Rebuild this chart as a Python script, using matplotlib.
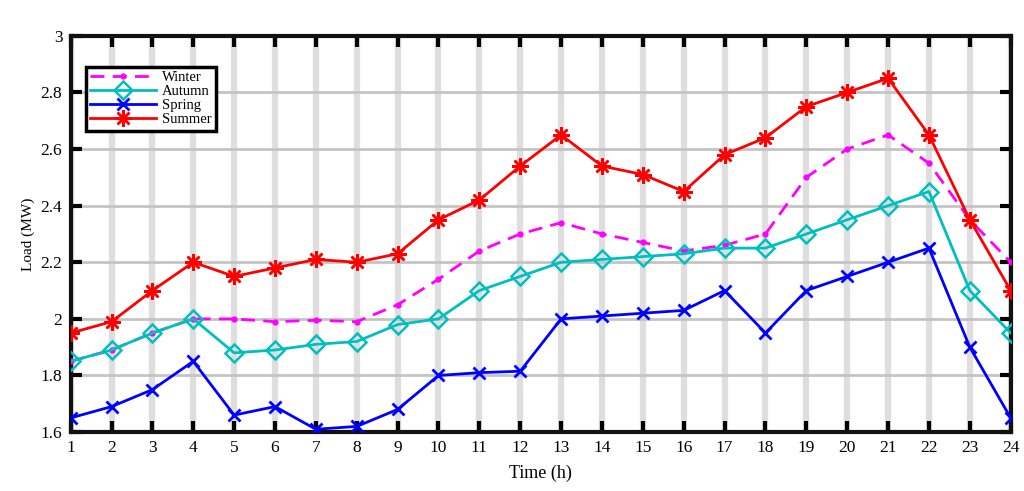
import numpy as np
import matplotlib.pyplot as plt

plt.rcParams['font.family'] = ['Liberation Serif', 'DejaVu Serif']

# ==============================================================================
# Data
# ==============================================================================
hours = list(range(1, 25))

winter = [1.85, 1.89, 1.95, 2.00, 2.00, 1.99, 1.995, 1.99, 2.05, 2.14, 2.24, 2.30,
          2.34, 2.30, 2.27, 2.24, 2.26, 2.30, 2.50, 2.60, 2.65, 2.55, 2.35, 2.20]
autumn = [1.85, 1.89, 1.95, 2.00, 1.88, 1.89, 1.91, 1.92, 1.98, 2.00, 2.10, 2.15,
          2.20, 2.21, 2.22, 2.23, 2.25, 2.25, 2.30, 2.35, 2.40, 2.45, 2.10, 1.95]
spring = [1.65, 1.69, 1.75, 1.85, 1.66, 1.69, 1.61, 1.62, 1.68, 1.80, 1.81, 1.815,
          2.00, 2.01, 2.02, 2.03, 2.10, 1.95, 2.10, 2.15, 2.20, 2.25, 1.90, 1.65]
summer = [1.95, 1.99, 2.10, 2.20, 2.15, 2.18, 2.21, 2.20, 2.23, 2.35, 2.42, 2.54,
          2.65, 2.54, 2.51, 2.45, 2.58, 2.64, 2.75, 2.80, 2.85, 2.65, 2.35, 2.10]

y_ticks = [1.6, 1.8, 2.0, 2.2, 2.4, 2.6, 2.8, 3.0]
y_labels = ['1.6', '1.8', '2', '2.2', '2.4', '2.6', '2.8', '3']

# ==============================================================================
# Plot
# ==============================================================================
fig = plt.figure(figsize=(10.24, 4.91), dpi=100)
ax = fig.add_axes([0.069, 0.120, 0.918, 0.807])

ax.plot(hours, winter, color='#ff00ff', linestyle=(0, (5, 3)), linewidth=2,
        marker='.', markersize=7, label='Winter', zorder=3)
ax.plot(hours, autumn, color='#00bfbf', linewidth=2, marker='D', markersize=9,
        markerfacecolor='none', markeredgewidth=1.8, label='Autumn', zorder=4)
ax.plot(hours, spring, color='#0000ff', linewidth=2, marker='x', markersize=9,
        markeredgewidth=2, label='Spring', zorder=4)
# MATLAB-style asterisk marker
ax.plot(hours, summer, color='#ff0000', linewidth=2, marker=(8, 2, 0), markersize=12,
        markeredgewidth=1.8, label='Summer', zorder=4)

ax.set_xlim(1, 24)
ax.set_ylim(1.6, 3.0)
ax.set_xticks(hours)
ax.set_yticks(y_ticks)
ax.set_yticklabels(y_labels)

# grid: thick light vertical lines, thinner horizontal ones
ax.grid(True, axis='x', color='#dedede', linewidth=4.5, zorder=0)
ax.grid(True, axis='y', color='#c4c4c4', linewidth=2, zorder=0)
ax.set_axisbelow(True)

for s in ax.spines.values():
    s.set_linewidth(3)
    s.set_color('#111111')

ax.tick_params(direction='in', length=8, width=3, top=True, right=True,
               labelsize=12.5, pad=6)

ax.set_xlabel('Time (h)', fontsize=13, labelpad=6)
ax.set_ylabel('Load (MW)', fontsize=11)

leg = ax.legend(loc='upper left', bbox_to_anchor=(0.016, 0.922), borderaxespad=0,
                fontsize=10.5, frameon=True, fancybox=False, borderpad=0.3,
                labelspacing=0.05, handlelength=4.5, handletextpad=0.4)
leg.get_frame().set_edgecolor('black')
leg.get_frame().set_linewidth(2.5)
leg.get_frame().set_alpha(1)

plt.savefig('out.png', dpi=100)
plt.close()
